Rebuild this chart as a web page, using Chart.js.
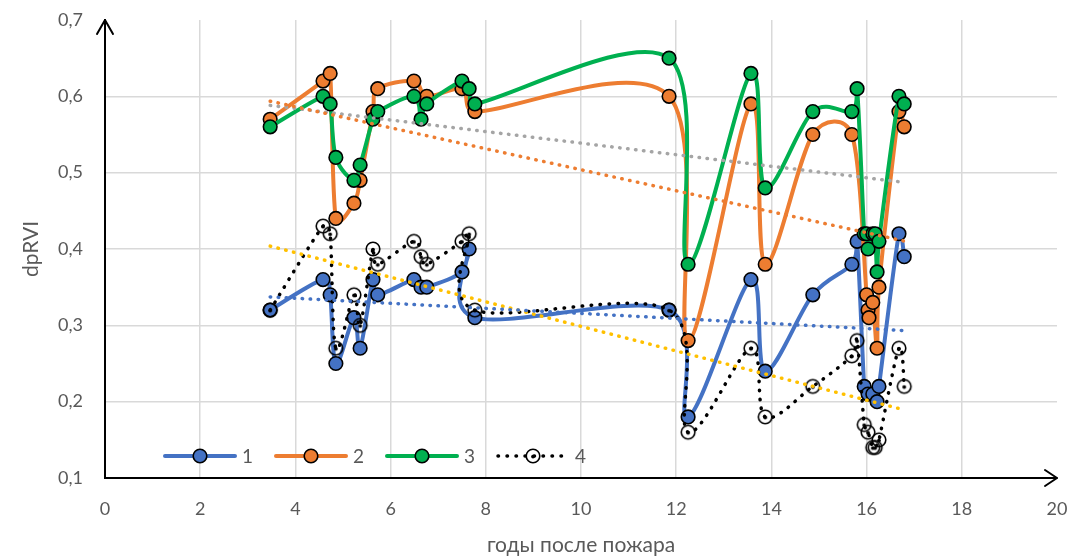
<!DOCTYPE html>
<html>
<head>
<meta charset="utf-8">
<script src="https://cdn.jsdelivr.net/npm/chart.js@4.4.1/dist/chart.umd.min.js"></script>
<style>
  html, body { margin: 0; padding: 0; background: #ffffff; }
  #wrap { width: 1081px; height: 560px; }
</style>
</head>
<body>
<div id="wrap"><canvas id="c" width="1081" height="560"></canvas></div>
<script>
// Years after the fire (observation dates shared by all plots)
const years = [3.47, 4.58, 4.73, 4.85, 5.23, 5.36, 5.63, 5.73, 6.49, 6.64, 6.76, 7.5, 7.65, 7.77,
  11.85, 12.25, 13.57, 13.87, 14.87, 15.69, 15.8, 15.95, 16.0, 16.03, 16.05, 16.13, 16.18, 16.22,
  16.26, 16.68, 16.79];

// dpRVI per plot (null = no observation on that date)
const plot1 = [0.32, 0.36, 0.34, 0.25, 0.31, 0.27, 0.36, 0.34, 0.36, 0.35, 0.35, 0.37, 0.40, 0.31,
  0.32, 0.18, 0.36, 0.24, 0.34, 0.38, 0.41, 0.22, null, 0.21, null, 0.21, null, 0.20, 0.22, 0.42, 0.39];
const plot2 = [0.57, 0.62, 0.63, 0.44, 0.46, 0.49, 0.58, 0.61, 0.62, null, 0.60, 0.61, null, 0.58,
  0.60, 0.28, 0.59, 0.38, 0.55, 0.55, null, null, 0.34, 0.32, 0.31, 0.33, null, 0.27, 0.35, 0.58, 0.56];
const plot3 = [0.56, 0.60, 0.59, 0.52, 0.49, 0.51, 0.57, 0.58, 0.60, 0.57, 0.59, 0.62, 0.61, 0.59,
  0.65, 0.38, 0.63, 0.48, 0.58, 0.58, 0.61, 0.42, 0.42, 0.40, null, 0.42, 0.42, 0.37, 0.41, 0.60, 0.59];
const plot4 = [0.32, 0.43, 0.42, 0.27, 0.34, 0.30, 0.40, 0.38, 0.41, 0.39, 0.38, 0.41, 0.42, 0.32,
  0.32, 0.16, 0.27, 0.18, 0.22, 0.26, 0.28, 0.17, null, 0.16, null, 0.14, 0.14, null, 0.15, 0.27, 0.22];

const seriesNames = ['1', '2', '3', '4'];
const xTicks = [0, 2, 4, 6, 8, 10, 12, 14, 16, 18, 20];
const yTicks = [0.1, 0.2, 0.3, 0.4, 0.5, 0.6, 0.7];

const lineColors = ['#4472C4', '#ED7D31', '#00B050', '#000000'];
const trendColors = ['#4472C4', '#ED7D31', '#A5A5A5', '#FFC000'];
const textColor = '#595959';
const FONT = 'Lato, "Noto Sans", sans-serif';

function points(values) {
  const out = [];
  values.forEach((v, i) => { if (v !== null) out.push({ x: years[i], y: v }); });
  return out;
}

// Least-squares linear trend over the plotted range of a series
function trend(values) {
  const p = points(values);
  const n = p.length;
  let sx = 0, sy = 0, sxx = 0, sxy = 0;
  p.forEach(q => { sx += q.x; sy += q.y; sxx += q.x * q.x; sxy += q.x * q.y; });
  const b = (n * sxy - sx * sy) / (n * sxx - sx * sx);
  const a = (sy - b * sx) / n;
  const xs = p.map(q => q.x);
  const x0 = Math.min(...xs), x1 = Math.max(...xs);
  return [{ x: x0, y: a + b * x0 }, { x: x1, y: a + b * x1 }];
}

// Open ring marker with a centre dot for plot 4
function ringMarker() {
  const c = document.createElement('canvas');
  c.width = 18; c.height = 18;
  const g = c.getContext('2d');
  g.lineWidth = 1.6;
  g.strokeStyle = '#000';
  g.beginPath(); g.arc(9, 9, 6.8, 0, Math.PI * 2); g.stroke();
  g.fillStyle = '#000';
  g.beginPath(); g.arc(9, 9.6, 1.9, 0, Math.PI * 2); g.fill();
  return c;
}
const ring = ringMarker();

const allPlots = [plot1, plot2, plot3, plot4];

const datasets = [];
allPlots.forEach((vals, i) => {
  const dotted = i === 3;
  datasets.push({
    label: seriesNames[i],
    data: points(vals),
    showLine: true,
    tension: 0.4,
    smoothUniform: true,
    borderColor: lineColors[i],
    borderWidth: dotted ? 3.5 : 4,
    borderDash: dotted ? [0.5, 8.5] : [],
    borderCapStyle: 'round',
    borderJoinStyle: 'round',
    pointStyle: dotted ? ring : 'circle',
    pointRadius: 6.8,
    pointBackgroundColor: lineColors[i],
    pointBorderColor: '#000000',
    pointBorderWidth: 1.6,
    order: 10 - i
  });
});
allPlots.forEach((vals, i) => {
  datasets.push({
    label: 'trend ' + seriesNames[i],
    data: trend(vals),
    showLine: true,
    tension: 0,
    borderColor: trendColors[i],
    borderWidth: 3.5,
    borderDash: [0.5, 7.5],
    borderCapStyle: 'round',
    pointRadius: 0,
    order: 1
  });
});

// Catmull-Rom control points (tangent = (next - prev) / 6), each handle
// limited to half the length of the segment it belongs to
const uniformSmoothing = {
  id: 'uniformSmoothing',
  beforeDatasetDraw(chart, args) {
    const ds = chart.data.datasets[args.index];
    if (!ds.smoothUniform) return;
    const meta = args.meta;
    meta.dataset.updateControlPoints(chart.chartArea, 'x');
    const pts = meta.data;
    const n = pts.length;
    const dist = (a, b) => Math.hypot(b.x - a.x, b.y - a.y);
    for (let i = 0; i < n; i++) {
      const p = pts[i];
      const prev = pts[Math.max(0, i - 1)];
      const next = pts[Math.min(n - 1, i + 1)];
      const tx = (next.x - prev.x) / 6;
      const ty = (next.y - prev.y) / 6;
      const len = Math.hypot(tx, ty) || 1;
      const kIn = Math.min(1, (dist(prev, p) / 2) / len);
      const kOut = Math.min(1, (dist(p, next) / 2) / len);
      p.cp1x = p.x - tx * kIn; p.cp1y = p.y - ty * kIn;
      p.cp2x = p.x + tx * kOut; p.cp2y = p.y + ty * kOut;
    }
  }
};

// Arrowheads on both axes
const axisArrows = {
  id: 'axisArrows',
  afterDraw(chart) {
    const { ctx, chartArea: a } = chart;
    ctx.save();
    ctx.strokeStyle = '#000';
    ctx.lineWidth = 2;
    ctx.lineCap = 'round';
    ctx.lineJoin = 'round';
    ctx.beginPath();
    ctx.moveTo(a.left - 8, a.top + 14);
    ctx.lineTo(a.left, a.top);
    ctx.lineTo(a.left + 8, a.top + 14);
    ctx.moveTo(a.right - 12, a.bottom - 8);
    ctx.lineTo(a.right, a.bottom);
    ctx.lineTo(a.right - 12, a.bottom + 8);
    ctx.stroke();
    ctx.restore();
  }
};

// Legend placed inside the plot area, bottom left
const innerLegend = {
  id: 'innerLegend',
  afterDraw(chart) {
    const { ctx } = chart;
    const y = 456;
    const startX = 165;
    const step = 111;
    ctx.save();
    ctx.font = '19px ' + FONT;
    ctx.textBaseline = 'middle';
    ctx.fillStyle = textColor;
    seriesNames.forEach((name, i) => {
      const x0 = startX + i * step;
      const x1 = x0 + 70;
      const mx = (x0 + x1) / 2;
      ctx.save();
      ctx.strokeStyle = lineColors[i];
      ctx.lineCap = 'round';
      if (i === 3) {
        ctx.lineWidth = 3.5;
        ctx.setLineDash([0.5, 8.5]);
      } else {
        ctx.lineWidth = 4;
      }
      ctx.beginPath();
      ctx.moveTo(x0, y);
      ctx.lineTo(x1, y);
      ctx.stroke();
      ctx.restore();
      if (i === 3) {
        ctx.drawImage(ring, mx - 9, y - 9);
      } else {
        ctx.save();
        ctx.fillStyle = lineColors[i];
        ctx.strokeStyle = '#000';
        ctx.lineWidth = 1.6;
        ctx.beginPath();
        ctx.arc(mx, y, 6.8, 0, Math.PI * 2);
        ctx.fill();
        ctx.stroke();
        ctx.restore();
      }
      ctx.fillText(name, x1 + 7, y + 1);
    });
    ctx.restore();
  }
};

new Chart(document.getElementById('c'), {
  type: 'scatter',
  data: { datasets },
  options: {
    responsive: false,
    animation: false,
    devicePixelRatio: 1,
    layout: { padding: { left: 0, right: 24, top: 20, bottom: 0 } },
    plugins: {
      legend: { display: false },
      tooltip: { enabled: false }
    },
    scales: {
      x: {
        type: 'linear',
        min: 0, max: 20,
        afterBuildTicks(scale) { scale.ticks = xTicks.map(v => ({ value: v })); },
        afterFit(scale) {
          scale.height = 82;
          scale.paddingLeft = 0;
          scale.paddingRight = 0;
        },
        ticks: {
          color: textColor,
          font: { family: FONT, size: 18 },
          padding: 20,
          callback: v => String(v)
        },
        grid: {
          color: ctx => (ctx.tick && (ctx.tick.value === 0 || ctx.tick.value === 20)) ? 'rgba(0,0,0,0)' : '#D9D9D9',
          lineWidth: 1.5,
          drawTicks: false
        },
        border: { display: true, color: '#000000', width: 2 },
        title: {
          display: true,
          text: 'годы после пожара',
          color: textColor,
          font: { family: FONT, size: 21 },
          padding: { top: 0, bottom: 2 }
        }
      },
      y: {
        type: 'linear',
        min: 0.1, max: 0.7,
        afterBuildTicks(scale) { scale.ticks = yTicks.map(v => ({ value: v })); },
        afterFit(scale) {
          scale.width = 105;
          scale.paddingTop = 0;
          scale.paddingBottom = 0;
        },
        ticks: {
          color: textColor,
          font: { family: FONT, size: 18 },
          padding: 22,
          callback: v => Number(v).toFixed(1).replace('.', ',')
        },
        grid: {
          color: ctx => (ctx.tick && (Math.abs(ctx.tick.value - 0.1) < 1e-6 || Math.abs(ctx.tick.value - 0.7) < 1e-6)) ? 'rgba(0,0,0,0)' : '#D9D9D9',
          lineWidth: 1.5,
          drawTicks: false
        },
        border: { display: true, color: '#000000', width: 2 },
        title: {
          display: true,
          text: 'dpRVI',
          color: textColor,
          font: { family: FONT, size: 21 },
          padding: { top: 19, bottom: 0 }
        }
      }
    }
  },
  plugins: [uniformSmoothing, axisArrows, innerLegend]
});
</script>
</body>
</html>
